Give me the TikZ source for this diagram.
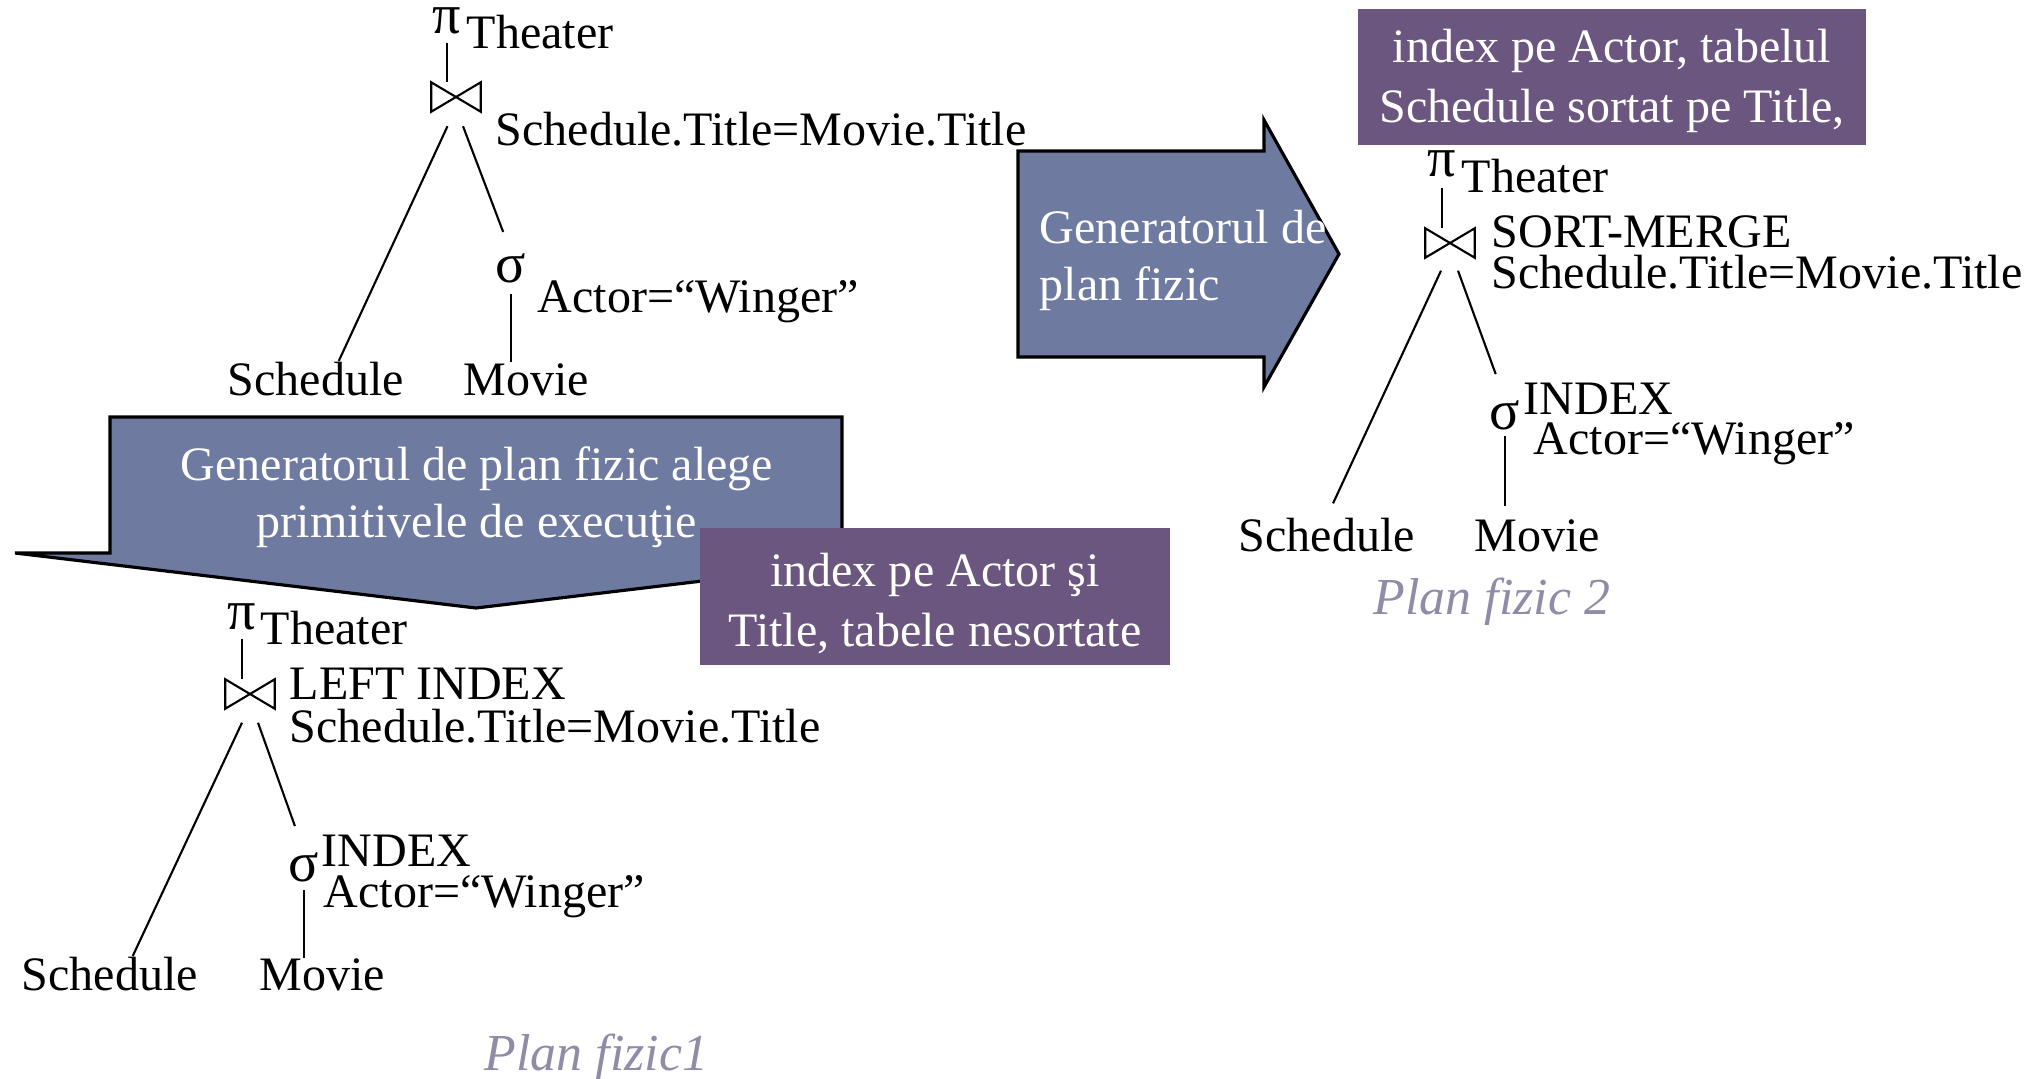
\documentclass[tikz,border=0pt]{standalone}
\usepackage{fontspec}
\setmainfont{Liberation Serif}
\definecolor{arrowblue}{HTML}{6F7AA0}
\definecolor{notepurple}{HTML}{6B567F}
\definecolor{capgray}{HTML}{8F8CA8}
\tikzset{
  lbl/.style={anchor=base west, inner sep=0pt},
  op/.style={anchor=base, inner sep=0pt, font=\fontsize{16}{18}\selectfont},
  jn/.style={minimum width=0.48cm, minimum height=0.28cm, inner sep=0pt},
  edge/.style={line width=0.6pt},
  bigarrow/.style={draw=black, fill=arrowblue, line width=0.9pt},
  arrowtext/.style={text=white, inner sep=0pt, font=\fontsize{13.66}{16.2}\selectfont},
  notebox/.style={fill=notepurple, text=white, align=center, inner sep=0pt,
    font=\fontsize{13.66}{17}\selectfont},
  plancap/.style={lbl, text=capgray, font=\fontsize{14.75}{17}\selectfont\itshape}
}
\begin{document}
\begin{tikzpicture}[x=0.01cm, y=-0.01cm, font=\fontsize{13.66}{16.2}\selectfont]
\useasboundingbox (0,0) rectangle (2044,1078);

\node[op] (pi0) at (447,33) {π};
\node[lbl] (th0) at (466,48) {Theater};
\node[jn] (j0) at (456,97) {};
\node[lbl] (c0) at (495,145) {Schedule.Title=Movie.Title};
\node[op] (sg0) at (511,282) {σ};
\node[lbl] (a0) at (537,312) {Actor=“Winger”};
\node[lbl] (sch0) at (227,395) {Schedule};
\node[lbl] (mov0) at (463,395) {Movie};
\draw[edge, shorten <=0.09cm] (pi0.south) -- (pi0.south |- j0.north);
\draw[edge] ([xshift=-0.085cm, yshift=-0.145cm]j0.south) -- ([xshift=0.23cm]sch0.north);
\draw[edge, shorten >=0.22cm] ([xshift=0.07cm, yshift=-0.145cm]j0.south) -- (sg0.north);
\draw[edge, shorten <=0.11cm] (sg0.south) -- (sg0.south |- mov0.north);

\draw[bigarrow] (110,417) -- (842,417) -- (842,553) -- (937,553) -- (476,608) -- (15,553) -- (110,553) -- cycle;
\node[arrowtext, align=center, anchor=base] (g1) at (477,537) {Generatorul de plan fizic alege\\primitivele de execuţie};
\node[notebox, minimum width=4.7cm, minimum height=1.37cm, text height=1.06cm, text depth=0.07cm] (n1) at (935,596.5) {index pe Actor şi\\Title, tabele nesortate};

\node[op] (pi1) at (242,629) {π};
\node[lbl] (th1) at (260,644) {Theater};
\node[jn] (j1) at (250,694) {};
\node[lbl] (m1) at (289,699) {LEFT INDEX};
\node[lbl] (c1) at (289,742) {Schedule.Title=Movie.Title};
\node[op] (sg1) at (304,881) {σ};
\node[lbl] (x1) at (321,866) {INDEX};
\node[lbl] (a1) at (323,907) {Actor=“Winger”};
\node[lbl] (sch1) at (21,990) {Schedule};
\node[lbl] (mov1) at (259,990) {Movie};
\node[plancap] (cap1) at (484,1070) {Plan fizic1};
\draw[edge, shorten <=0.09cm] (pi1.south) -- (pi1.south |- j1.north);
\draw[edge] ([xshift=-0.08cm, yshift=-0.14cm]j1.south) -- ([xshift=0.23cm]sch1.north);
\draw[edge, shorten >=0.27cm] ([xshift=0.08cm, yshift=-0.14cm]j1.south) -- (sg1.north);
\draw[edge, shorten <=0.08cm] (sg1.south) -- (sg1.south |- mov1.north);

\draw[bigarrow] (1018,151) -- (1264,151) -- (1264,120) -- (1339,254) -- (1264,387) -- (1264,357) -- (1018,357) -- cycle;
\node[arrowtext, align=left, anchor=base west] (g2) at (1039,300) {Generatorul de\\plan fizic};
\node[notebox, minimum width=5.08cm, minimum height=1.36cm, text depth=0.02cm] (n2) at (1612,77) {index pe Actor, tabelul\\Schedule sortat pe Title,};

\node[op] (pi2) at (1442,176) {π};
\node[lbl] (th2) at (1461,192) {Theater};
\node[jn] (j2) at (1450,243) {};
\node[lbl] (m2) at (1491,247) {SORT-MERGE};
\node[lbl] (c2) at (1491,288) {Schedule.Title=Movie.Title};
\node[op] (sg2) at (1505,429) {σ};
\node[lbl] (x2) at (1523,414) {INDEX};
\node[lbl] (a2) at (1533,454) {Actor=“Winger”};
\node[lbl] (sch2) at (1238,551) {Schedule};
\node[lbl] (mov2) at (1474,551) {Movie};
\node[plancap] (cap2) at (1373,614) {Plan fizic 2};
\draw[edge, shorten <=0.11cm] (pi2.south) -- (pi2.south |- j2.north);
\draw[edge, shorten >=0.15cm] ([xshift=-0.09cm, yshift=-0.13cm]j2.south) -- (sch2.north);
\draw[edge, shorten >=0.27cm] ([xshift=0.08cm, yshift=-0.13cm]j2.south) -- (sg2.north);
\draw[edge, shorten <=0.06cm, shorten >=0.12cm] (sg2.south) -- (sg2.south |- mov2.north);

\foreach \j in {j0,j1,j2}
  \draw[edge] (\j.south west) -- (\j.north east) -- (\j.south east) -- (\j.north west) -- cycle;
\end{tikzpicture}
\end{document}
